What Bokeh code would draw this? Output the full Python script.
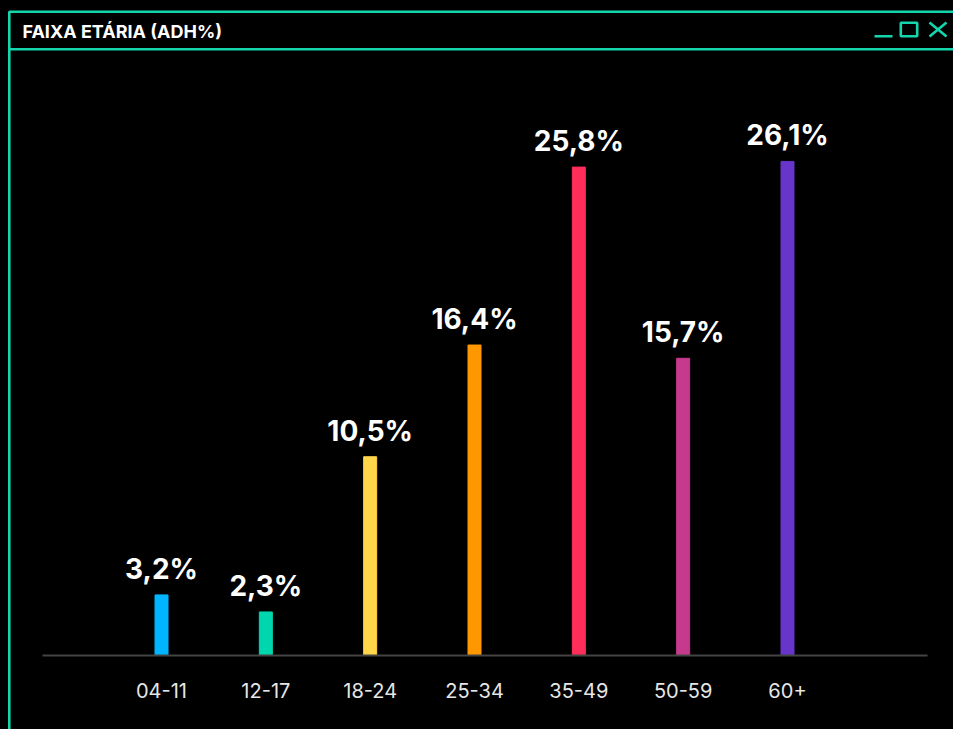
from bokeh.plotting import figure
from bokeh.models import ColumnDataSource, Range1d, BoxAnnotation, Label, Arrow
from bokeh.core.properties import value
from bokeh.embed import file_html
from bokeh.resources import INLINE

categories = ["04-11", "12-17", "18-24", "25-34", "35-49", "50-59", "60+"]
shares = [3.2, 2.3, 10.5, 16.4, 25.8, 15.7, 26.1]
bar_colors = ["#00b4ff", "#00d6ad", "#ffd54a", "#ff9800", "#ff2d5a", "#c63a8e", "#6735c9"]
title_text = "FAIXA ETÁRIA (ADH%)"

TEAL = "#14d6ad"
FONT = "Inter"
W, H = 953, 729

idx = list(range(len(categories)))
labels = [f"{v:.1f}%".replace(".", ",") for v in shares]
src = ColumnDataSource(dict(x=idx, top=shares, color=bar_colors, label=labels,
                            cat=categories, base=[0] * len(idx)))

# plot frame covers the whole canvas (annotations are clipped to the frame)
p = figure(width=W, height=H, output_backend="svg", toolbar_location=None,
           x_range=Range1d(-1.5432, 7.5911), y_range=Range1d(-3.909, 34.60),
           x_axis_location=None, y_axis_location=None,
           background_fill_color="black", border_fill_color="black",
           min_border=0)
p.outline_line_color = None
p.grid.visible = False


def sy(py):
    # page y (from top) -> frame screen y (from bottom)
    return H - py


def box(l, r, t, b, **kw):
    return BoxAnnotation(left=l, right=r, top=sy(t), bottom=sy(b),
                         left_units="screen", right_units="screen",
                         top_units="screen", bottom_units="screen", **kw)


def seg(x0, y0, x1, y1, color=TEAL, width=2.6):
    return Arrow(end=None, x_start=x0, y_start=sy(y0), x_end=x1, y_end=sy(y1),
                 start_units="screen", end_units="screen",
                 line_color=color, line_width=width)


# baseline (axis line)
p.add_layout(box(42, 927, 654, 656, fill_color="#444444", fill_alpha=1, line_color=None))

p.vbar(x="x", top="top", bottom=0, width=0.1246, color="color", source=src)
p.text(x="x", y="top", text="label", source=src, text_align="center",
       text_baseline="alphabetic", y_offset=-26, text_color="white",
       text_font=value(FONT), text_font_size="28px", text_font_style="bold")
p.text(x="x", y="base", text="cat", source=src, text_align="center",
       text_baseline="middle", y_offset=35, text_color="#e6e6e6",
       text_font=value(FONT), text_font_size="20px")

# window frame decorations
p.add_layout(box(8.8, 2000, 11.3, 2000, fill_alpha=0, line_color=TEAL,
                 line_alpha=1, line_width=2.6))
p.add_layout(box(8.8, 2000, 47.4, 50.0, fill_color=TEAL, fill_alpha=1, line_color=None))
# minimize icon
p.add_layout(box(874, 892, 34.5, 37.0, fill_color=TEAL, fill_alpha=1, line_color=None))
# maximize icon
p.add_layout(box(900.3, 916.7, 22.3, 35.7, fill_alpha=0, line_color=TEAL,
                 line_alpha=1, line_width=2.6))
# close icon
p.add_layout(seg(929, 22, 946, 36))
p.add_layout(seg(929, 36, 946, 22))

p.add_layout(Label(x=22, y=sy(30.5), x_units="screen", y_units="screen", text=title_text,
                   text_color="white", text_font=FONT, text_font_size="18px",
                   text_font_style="bold", text_baseline="middle"))

html = file_html(p, INLINE)
html = html.replace("<body>", '<body style="background:#000;">')
open("out.html", "w").write(html)
